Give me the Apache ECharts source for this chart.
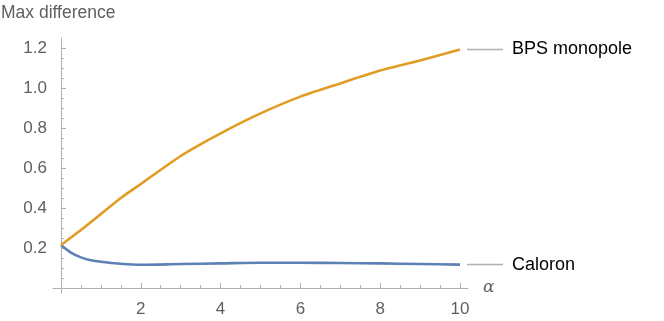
<!DOCTYPE html>
<html>
<head>
<meta charset="utf-8">
<script src="https://cdn.jsdelivr.net/npm/echarts@6.0.0/dist/echarts.min.js"></script>
<style>
  html, body { margin: 0; padding: 0; background: #fff; }
  #chart { width: 664px; height: 321px; }
</style>
</head>
<body>
<div id="chart"></div>
<script>
// values
var alphaBps = [0, 0.5, 1, 1.5, 2, 3, 4, 5, 6, 7, 8, 9, 10];
var bpsValues = [0.215, 0.29, 0.37, 0.45, 0.52, 0.66, 0.773, 0.873, 0.957, 1.023, 1.087, 1.137, 1.193];

var alphaCal = [0, 0.25, 0.5, 0.75, 1, 1.5, 2, 3, 4, 5, 6, 7, 8, 9, 10];
var caloronValues = [0.215, 0.177, 0.153, 0.139, 0.131, 0.121, 0.116, 0.12, 0.123, 0.126, 0.126, 0.125, 0.123, 0.12, 0.117];

var xMajorTicks = [2, 4, 6, 8, 10];
var xMinorTicks = [0.5, 1, 1.5, 2.5, 3, 3.5, 4.5, 5, 5.5, 6.5, 7, 7.5, 8.5, 9, 9.5];
var yMajorTicks = [0.2, 0.4, 0.6, 0.8, 1.0, 1.2];
var yMinorTicks = [0.05, 0.1, 0.15, 0.25, 0.3, 0.35, 0.45, 0.5, 0.55, 0.65, 0.7, 0.75,
                   0.85, 0.9, 0.95, 1.05, 1.1, 1.15];

var axisGray = '#b0b0b0';
var labelGray = '#606060';
var font = 'Liberation Sans, Arial, sans-serif';

function pairs(xs, ys) {
  return xs.map(function (x, i) { return [x, ys[i]]; });
}

function endLabel(text) {
  return {
    show: true,
    distance: 7,
    formatter: '{l| }{t|' + text + '}',
    rich: {
      l: { width: 36, height: 1.5, backgroundColor: axisGray, verticalAlign: 'middle' },
      t: { fontFamily: font, fontSize: 18, color: '#000', padding: [0, 0, 0, 9], verticalAlign: 'middle' }
    }
  };
}

function xAxisCfg(ticks, len, main) {
  return {
    type: 'value', min: -0.2, max: 10.2, position: 'bottom',
    splitLine: { show: false },
    axisLine: { show: main, onZero: true, lineStyle: { color: axisGray, width: 1 } },
    axisTick: { show: true, inside: true, length: len, customValues: ticks, lineStyle: { color: axisGray } },
    axisLabel: { show: main, customValues: xMajorTicks, margin: 8, color: labelGray, fontFamily: font, fontSize: 17 },
    name: main ? 'α' : '', nameLocation: 'end', nameGap: 15,
    nameTextStyle: { fontFamily: 'DejaVu Serif, serif', fontStyle: 'italic', fontSize: 17, color: labelGray, padding: [0, 0, 4, 0] }
  };
}

function yAxisCfg(ticks, len, main) {
  return {
    type: 'value', min: -0.025, max: 1.25, position: 'left',
    splitLine: { show: false },
    axisLine: { show: main, onZero: true, lineStyle: { color: axisGray, width: 1 } },
    axisTick: { show: true, inside: true, length: len, customValues: ticks, lineStyle: { color: axisGray } },
    axisLabel: { show: main, customValues: yMajorTicks, margin: 6, color: labelGray, fontFamily: font, fontSize: 17,
                 formatter: function (v) { return v.toFixed(1); } }
  };
}

var chart = echarts.init(document.getElementById('chart'), null, { renderer: 'canvas' });
chart.setOption({
  animation: false,
  grid: { left: 53, right: 196, top: 38, bottom: 28, containLabel: false },
  graphic: [{
    type: 'text', left: 1, top: 4,
    style: { text: 'Max difference', fontFamily: font, fontSize: 17.5, fill: labelGray }
  }],
  xAxis: [xAxisCfg(xMajorTicks, 5, true), xAxisCfg(xMinorTicks, 3, false)],
  yAxis: [yAxisCfg(yMajorTicks, 5, true), yAxisCfg(yMinorTicks, 3, false)],
  series: [
    {
      name: 'Caloron', type: 'line', smooth: 0.3, showSymbol: false,
      data: pairs(alphaCal, caloronValues),
      lineStyle: { color: '#5e81b5', width: 2.6 },
      endLabel: endLabel('Caloron')
    },
    {
      name: 'BPS monopole', type: 'line', smooth: 0.2, showSymbol: false,
      data: pairs(alphaBps, bpsValues),
      lineStyle: { color: '#e19c24', width: 2.6 },
      endLabel: endLabel('BPS monopole')
    }
  ]
});
</script>
</body>
</html>
